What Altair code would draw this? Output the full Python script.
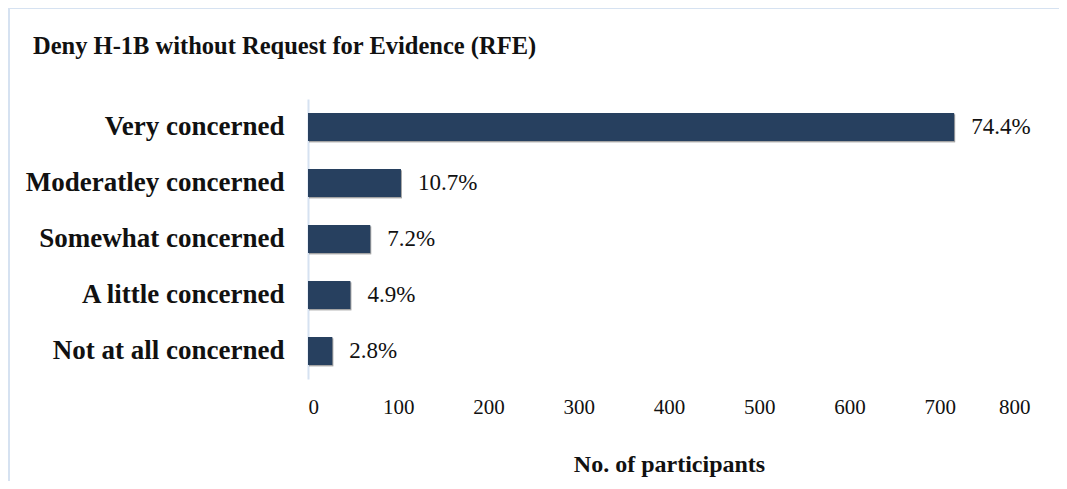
import altair as alt
import pandas as pd

categories = ["Very concerned", "Moderatley concerned", "Somewhat concerned",
              "A little concerned", "Not at all concerned"]
counts = [716, 103, 69, 47, 27]
pct_labels = ["74.4%", "10.7%", "7.2%", "4.9%", "2.8%"]
x_ticks = [0, 100, 200, 300, 400, 500, 600, 700, 800]

df = pd.DataFrame({"category": categories, "count": counts, "pct": pct_labels})

FONT = "Liberation Serif"
BAR = "#27405f"
BORDER = "#d6e2f1"

y_enc = alt.Y("category:N", sort=categories,
              scale=alt.Scale(paddingInner=0.5, paddingOuter=0.25),
              axis=alt.Axis(title=None, labelFont=FONT, labelFontSize=27,
                            labelFontWeight="bold", labelColor="#111111",
                            labelPadding=24, ticks=False, domain=True,
                            domainColor=BORDER, domainWidth=2, labelLimit=400))
x_enc = alt.X("count:Q", scale=alt.Scale(domain=[0, 800], nice=False),
              axis=alt.Axis(title="No. of participants", values=x_ticks,
                            grid=False, ticks=False, domain=False,
                            labelFont=FONT, labelFontSize=21, labelColor="#111111",
                            labelPadding=17, titleFont=FONT, titleFontSize=24,
                            titleFontWeight="bold", titleColor="#111111",
                            titlePadding=35))

base = alt.Chart(df)

shadow1 = base.mark_bar(color="#000000", opacity=0.14, xOffset=1, x2Offset=5,
                        yOffset=2, y2Offset=7).encode(x=x_enc, y=y_enc)
shadow2 = base.mark_bar(color="#000000", opacity=0.25, xOffset=1, x2Offset=3,
                        yOffset=1, y2Offset=4).encode(x=x_enc, y=y_enc)
bars = base.mark_bar(color=BAR).encode(x=x_enc, y=y_enc)
labels = base.mark_text(align="left", baseline="middle", dx=17, font=FONT,
                        fontSize=23, color="#111111").encode(
    x=x_enc, y=y_enc, text="pct:N")

border_top = alt.Chart(df).mark_rule(color=BORDER, strokeWidth=2).encode(
    x=alt.value(-300), x2=alt.value(800), y=alt.value(-91))
border_left = alt.Chart(df).mark_rule(color=BORDER, strokeWidth=2).encode(
    x=alt.value(-299), y=alt.value(-92), y2=alt.value(400))

chart = alt.layer(border_top, border_left, shadow1, shadow2, bars, labels).properties(
    width=722, height=280,
    autosize=alt.AutoSizeParams(type="none"),
    padding={"left": 300, "top": 91, "right": 29, "bottom": 102},
    title=alt.TitleParams("Deny H-1B without Request for Evidence (RFE)",
                          anchor="start", frame="group", dx=-275, dy=72,
                          offset=0, baseline="alphabetic",
                          font=FONT, fontSize=24.5, fontWeight="bold",
                          color="#111111"),
).configure_view(stroke=None)

chart.save("out.html", embed_options={"renderer": "svg", "actions": False})
